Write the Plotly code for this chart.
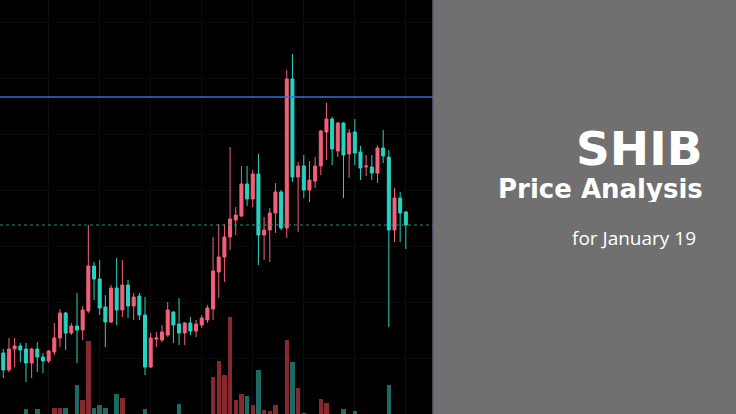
import plotly.graph_objects as go

# Price in units of 1e-8 USD (SHIB/USDT), one candle per period
opens = [2822, 2788, 2830, 2836, 2830, 2802, 2830, 2814, 2806, 2824,
         2852, 2902, 2862, 2876, 2868, 2906, 2996, 2970, 2914, 2884,
         2952, 2908, 2958, 2916, 2936, 2898, 2794, 2850, 2848, 2858,
         2904, 2880, 2862, 2882, 2866, 2878, 2888, 2910, 2984, 3014,
         3054, 3088, 3096, 3160, 3130, 3180, 3058, 3068, 3102, 3144,
         3072, 3370, 3174, 3196, 3148, 3166, 3196, 3264, 3290, 3226,
         3282, 3220, 3264, 3224, 3194, 3194, 3182, 3232, 3214, 3068,
         3132, 3104]
highs = [2830, 2852, 2852, 2842, 2842, 2832, 2844, 2822, 2828, 2882,
         2910, 2904, 2882, 2942, 2916, 3078, 3004, 3008, 2938, 2958,
         3012, 3008, 2968, 2942, 2942, 2934, 2862, 2864, 2878, 2924,
         2906, 2932, 2884, 2894, 2888, 2898, 2918, 3054, 3080, 3080,
         3234, 3114, 3196, 3196, 3188, 3220, 3094, 3112, 3162, 3148,
         3388, 3420, 3204, 3218, 3206, 3214, 3268, 3322, 3294, 3284,
         3284, 3270, 3290, 3236, 3218, 3218, 3238, 3268, 3228, 3152,
         3144, 3106]
lows = [2772, 2784, 2794, 2804, 2764, 2772, 2784, 2782, 2802, 2818,
        2834, 2828, 2858, 2802, 2848, 2902, 2928, 2898, 2834, 2882,
        2878, 2894, 2892, 2888, 2888, 2778, 2792, 2834, 2844, 2854,
        2842, 2838, 2838, 2858, 2854, 2872, 2882, 2888, 2932, 2964,
        3028, 3058, 3094, 3116, 3114, 2998, 3008, 3004, 3062, 3068,
        3052, 3164, 3064, 3132, 3124, 3152, 3178, 3208, 3198, 3214,
        3132, 3172, 3198, 3168, 3176, 3168, 3162, 3202, 2874, 3044,
        3044, 3030]
closes = [2788, 2830, 2836, 2828, 2802, 2830, 2814, 2806, 2826, 2852,
          2902, 2862, 2876, 2868, 2908, 2996, 2970, 2912, 2884, 2952,
          2908, 2958, 2916, 2934, 2898, 2794, 2852, 2852, 2864, 2908,
          2878, 2862, 2882, 2866, 2880, 2892, 2912, 2986, 3014, 3054,
          3090, 3098, 3160, 3130, 3180, 3058, 3068, 3102, 3144, 3072,
          3370, 3174, 3196, 3148, 3168, 3196, 3266, 3290, 3230, 3282,
          3218, 3262, 3222, 3192, 3196, 3182, 3232, 3216, 3068, 3132,
          3102, 3078]
volumes = [0, 0, 0, 0, 5, 0, 5, 0, 0, 6,
           6, 6, 0, 29, 14, 73, 6, 9, 6, 0,
           20, 16, 0, 0, 0, 5, 0, 0, 0, 0,
           0, 10, 0, 0, 0, 0, 0, 37, 53, 39,
           97, 14, 20, 18, 9, 44, 4, 3, 9, 0,
           74, 52, 26, 1, 0, 0, 15, 11, 0, 0,
           5, 0, 3, 0, 0, 0, 0, 0, 29, 0,
           0, 0]
resistance_level = 3334
current_level = 3078

title_main = "SHIB"
title_sub = "Price Analysis"
title_date = "for January 19"

UP = "#f2607b"
DOWN = "#26d3c3"
UP_VOL = "#86292f"
DOWN_VOL = "#1d6963"

idx = list(range(len(opens)))
vol_colors = [UP_VOL if c >= o else DOWN_VOL for o, c in zip(opens, closes)]

W, H = 736, 414
CHART_W = 433
xdom = CHART_W / W

fig = go.Figure()

fig.add_trace(go.Bar(
    x=idx, y=volumes, marker=dict(color=vol_colors, line=dict(width=0)),
    width=0.78, yaxis="y2", xaxis="x", showlegend=False, hoverinfo="skip"))

fig.add_trace(go.Candlestick(
    x=idx, open=opens, high=highs, low=lows, close=closes,
    increasing=dict(line=dict(color=UP, width=1), fillcolor=UP),
    decreasing=dict(line=dict(color=DOWN, width=1), fillcolor=DOWN),
    whiskerwidth=0, showlegend=False, xaxis="x", yaxis="y"))

x_lo, x_hi = -0.58, 75.79

fig.update_layout(
    width=W, height=H,
    margin=dict(l=0, r=0, t=0, b=0),
    paper_bgcolor="#000000",
    plot_bgcolor="#000000",
    boxgap=0.24,
    bargap=0,
    xaxis=dict(domain=[0, xdom], range=[x_lo, x_hi], showgrid=True,
               gridcolor="#0d0d0d", dtick=9, tick0=-1,
               showticklabels=False, zeroline=False,
               rangeslider=dict(visible=False), fixedrange=True),
    yaxis=dict(domain=[0, 1], range=[2700, 3528], showgrid=True,
               gridcolor="#0a0a0a", dtick=112, tick0=2700,
               showticklabels=False, zeroline=False),
    yaxis2=dict(domain=[0, 1], range=[0, 414], overlaying="y",
                showgrid=False, showticklabels=False, zeroline=False),
    showlegend=False,
)

# horizontal levels
fig.add_shape(type="line", xref="paper", yref="y", x0=0, x1=xdom,
              y0=resistance_level, y1=resistance_level,
              line=dict(color="#2f6fd8", width=1.5))
fig.add_shape(type="line", xref="paper", yref="y", x0=0, x1=xdom,
              y0=current_level, y1=current_level,
              line=dict(color="#2e8a80", width=1, dash="dot"))

# right grey panel
fig.add_shape(type="rect", xref="paper", yref="paper", x0=xdom, x1=1,
              y0=0, y1=1, fillcolor="#707070", line=dict(width=0),
              layer="above")
fig.add_shape(type="line", xref="paper", yref="paper", x0=xdom, x1=xdom,
              y0=0, y1=1, line=dict(color="#6a5a78", width=1.5),
              layer="above")

fig.add_annotation(text=f"<b>{title_main}</b>", xref="paper", yref="paper",
                   x=705 / W, y=1 - 148 / H, xanchor="right", yanchor="middle",
                   showarrow=False, height=46, valign="middle",
                   font=dict(family="DejaVu Sans", size=47, color="#ffffff"))
fig.add_annotation(text=f"<b>{title_sub}</b>", xref="paper", yref="paper",
                   x=705 / W, y=1 - 188 / H, xanchor="right", yanchor="middle",
                   showarrow=False, height=27, valign="middle",
                   font=dict(family="DejaVu Sans", size=26, color="#ffffff"))
fig.add_annotation(text=title_date, xref="paper", yref="paper",
                   x=698 / W, y=1 - 238 / H, xanchor="right", yanchor="middle",
                   showarrow=False,
                   font=dict(family="Open Sans", size=19, color="#ffffff"))

fig.write_html("out.html",
               config={"displayModeBar": False, "staticPlot": True},
               post_script="document.body.style.margin='0';"
                           "document.body.style.overflow='hidden';")
